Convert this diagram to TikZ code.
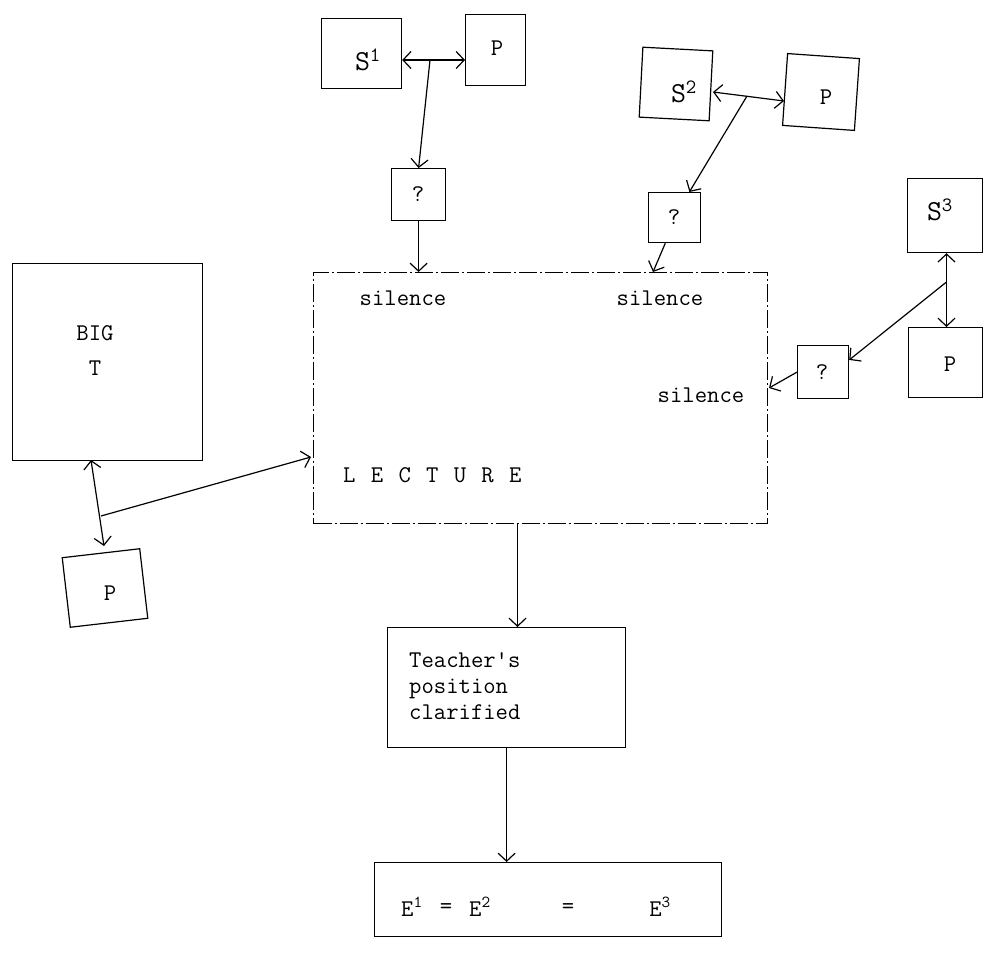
\documentclass[tikz,border=0pt]{standalone}
\usepackage{fontspec}
\usetikzlibrary{arrows.meta,calc}
\begin{document}
\begin{tikzpicture}[x=1pt,y=-1pt,
  lw/.style={line width=1.2pt},
  box/.style={draw, lw, inner sep=0pt, anchor=north west},
  cbox/.style={draw, lw, inner sep=0pt},
  lbl/.style={font=\fontsize{24}{26}\selectfont\ttfamily, inner sep=0pt},
  big/.style={font=\fontsize{29}{32}\selectfont\ttfamily, inner sep=0pt},
  tip/.tip={Straight Barb[length=8pt,width=17pt,line width=1.2pt]},
  arr/.style={lw, -tip},
  arrboth/.style={lw, tip-tip},
  dashdot/.style={dash pattern=on 18pt off 3pt on 2pt off 3pt},
]
\useasboundingbox (0,0) rectangle (983,971);

% ---- group 1
\node[box, minimum width=80pt, minimum height=70pt] (s1) at (321,18) {};
\node[big] (s1t) at (368,60) {S\textsuperscript{1}};
\node[box, minimum width=60pt, minimum height=71pt] (p1) at (465,14) {};
\node[lbl] (p1t) at (497,48) {P};
\node[box, minimum width=54pt, minimum height=52pt] (q1) at (391,168) {};
\node[lbl] (q1t) at (418,194) {?};
\coordinate (j1) at (430,60);
\draw[arrboth] (s1.east |- j1) -- (p1.west |- j1);
\draw[arr] (j1) -- (q1.north);

% ---- group 2
\node[cbox, minimum width=70pt, minimum height=70pt, rotate=-3] (s2) at (676,84) {};
\node[big] (s2t) at (684,92) {S\textsuperscript{2}};
\node[cbox, minimum width=72pt, minimum height=72pt, rotate=-4] (p2) at (821,92) {};
\node[lbl] (p2t) at (826,97) {P};
\node[box, minimum width=52pt, minimum height=50pt] (q2) at (648,192) {};
\node[lbl] (q2t) at (674,217) {?};
\coordinate (a2) at (713,92);
\coordinate (b2) at (784,101);
\coordinate (j2) at (747,96);
\draw[arrboth] (a2) -- (b2);
\draw[arr] (j2) -- (q2.60);

% ---- group 3
\node[box, minimum width=75pt, minimum height=74pt] (s3) at (907,178) {};
\node[big] (s3t) at (940,210) {S\textsuperscript{3}};
\node[box, minimum width=74pt, minimum height=70pt] (p3) at (908,327) {};
\node[lbl] (p3t) at (950,364) {P};
\node[box, minimum width=51pt, minimum height=53pt] (q3) at (797,345) {};
\node[lbl] (q3t) at (822,372) {?};
\coordinate (j3) at (946.5,282);
\draw[arrboth] (s3.south -| j3) -- (p3.north -| j3);
\draw[arr] (j3) -- (q3.25);

% ---- lecture
\node[box, dashdot, minimum width=454pt, minimum height=251pt] (lec) at (313,272) {};
\node[lbl] (sil1) at (403,298) {silence};
\node[lbl] (sil2) at (660,298) {silence};
\node[lbl] (sil3) at (701,395) {silence};
\node[lbl, anchor=west] (lect) at (343,475) {L\hspace{15.3pt}E\hspace{15.3pt}C\hspace{15.3pt}T\hspace{15.3pt}U\hspace{15.3pt}R\hspace{15.3pt}E};
\coordinate (l2) at (653,272);
\coordinate (l3) at (769,388);
\draw[arr] (q1.south) -- (q1.south |- lec.north);
\draw[arr] (q2.250) -- (l2);
\draw[arr] (q3.west) -- (l3);

% ---- BIG T
\node[box, minimum width=190pt, minimum height=197pt] (bigt) at (12,263) {};
\node[lbl] (bigtA) at (95,333) {BIG};
\node[lbl] (bigtB) at (95,368) {T};
\node[cbox, minimum width=78pt, minimum height=70pt, rotate=6.6] (p4) at (105,588) {};
\node[lbl] (p4t) at (110,593) {P};
\coordinate (t4) at (91,460);
\coordinate (u4) at (104,546);
\coordinate (j4) at (101,516);
\coordinate (l4) at (311,457);
\draw[arrboth] (t4) -- (u4);
\draw[arr] (j4) -- (l4);

% ---- teacher
\node[box, minimum width=238pt, minimum height=120pt] (teach) at (387,627) {};
\node[lbl, anchor=north west, align=left] (teacht) at (409,652) {Teacher\textquotesingle s\\position\\clarified};
\coordinate (c5) at (517.5,523);
\draw[arr] (c5) -- (c5 |- teach.north);

% ---- E box
\node[box, minimum width=347pt, minimum height=74pt] (ebox) at (374,862) {};
\node[lbl] (e1) at (412,907) {E\textsuperscript{1}};
\node[lbl] (eq1) at (446,909) {=};
\node[lbl] (e2) at (480,907) {E\textsuperscript{2}};
\node[lbl] (eq2) at (568,909) {=};
\node[lbl] (e3) at (660,907) {E\textsuperscript{3}};
\draw[arr] (teach.south) -- (teach.south |- ebox.north);
\end{tikzpicture}
\end{document}
